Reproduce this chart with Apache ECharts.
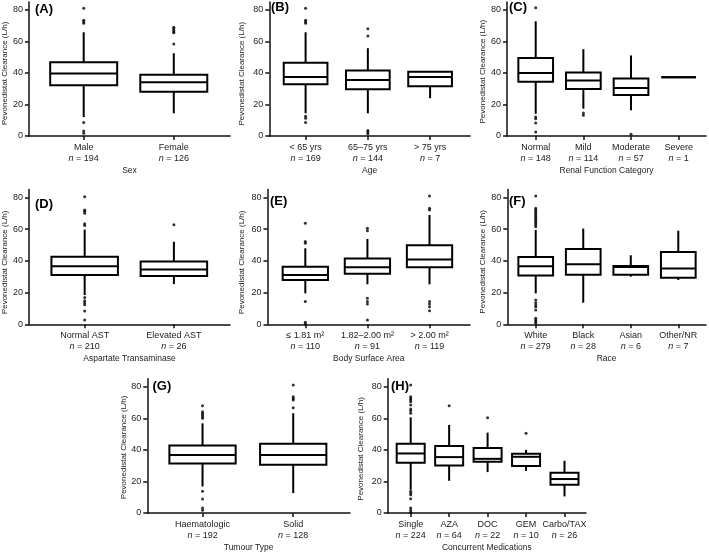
<!DOCTYPE html>
<html><head><meta charset="utf-8">
<script src="https://cdn.jsdelivr.net/npm/echarts@6/dist/echarts.min.js"></script>
<style>html,body{margin:0;padding:0;background:#fff}#c{width:709px;height:553px}</style>
</head><body><div id="c"></div><script>
// ---------- DATA ----------
const yTicks = [0, 20, 40, 60, 80];
const yName = 'Pevonedistat Clearance (L/h)';

// box stats: [min whisker, Q1, median, Q3, max whisker]
const catsA = ['Male', 'Female'];
const nA = [194, 126];
const boxA = [[12, 32.2, 39.6, 46.8, 65.8], [14.4, 28.1, 34.1, 38.9, 52.5]];
const outA = [[81, 73.5, 72.5, 71.5, 8.5, 3.2, 1.7], [69, 68, 67, 66, 65.5, 58.4]];

const catsB = ['< 65 yrs', '65\u201375 yrs', '> 75 yrs'];
const nB = [169, 144, 7];
const boxB = [[14.4, 32.8, 37.5, 46.5, 65.8], [14.4, 29.6, 35.6, 41.5, 55.7], [24, 31.5, 37.5, 40.8, 40.8]];
const outB = [[81, 73.5, 72.5, 71.5, 12.5, 11.2, 8.5], [68.1, 63.5, 3.5, 2.5, 1.5], []];

const catsC = ['Normal', 'Mild', 'Moderate', 'Severe'];
const nC = [148, 114, 57, 1];
const boxC = [[14.1, 34.4, 39.9, 49.4, 72.8], [17.3, 29.8, 35.2, 40.3, 55.1], [16.3, 26.0, 30.4, 36.5, 51.1], [37.2, 37.2, 37.2, 37.2, 37.2]];
const outC = [[81.3, 12, 11, 8.2, 2.5], [14.6, 13.1], [1.1], []];

const catsD = ['Normal AST', 'Elevated AST'];
const nD = [210, 26];
const boxD = [[18.4, 31.1, 36.6, 42.6, 59.7], [25.3, 30.5, 34.5, 39.5, 52]];
const outD = [[80.4, 72, 71.2, 70, 63.3, 62.2, 16.9, 14.8, 13.6, 12.3, 8.4, 2.7], [62.7]];

const catsE = ['\u2264 1.81 m\u00b2', '1.82\u20132.00 m\u00b2', '> 2.00 m\u00b2'];
const nE = [110, 91, 119];
const boxE = [[19.5, 27.9, 31.1, 36.3, 47.9], [25.2, 31.9, 35.9, 41.4, 53.8], [25.2, 35.9, 40.9, 49.8, 68.9]];
const outE = [[63.6, 52.1, 51.0, 14.3, 1.3, 0.2], [60.5, 59.0, 16.4, 14.3, 12.8, 2.7], [80.8, 73.1, 72.0, 14.3, 12.8, 11.1, 8.6]];

const catsF = ['White', 'Black', 'Asian', 'Other/NR'];
const nF = [279, 28, 6, 7];
const boxF = [[19.5, 30.7, 36.5, 42.4, 59.4], [13.6, 31.3, 37.8, 47.5, 60.3], [30.0, 31.3, 36.1, 36.7, 43.5], [27.9, 29.4, 35.1, 45.6, 59.0]];
const outF = [[80.8, 73.1, 72.0, 71.0, 69.9, 68.9, 67.8, 66.8, 65.7, 64.7, 63.6, 62.6, 61.5, 15.3, 13.6, 12.2, 11.1, 9.0, 3.8, 2.7, 1.7, 0.6], [], [], []];

const catsG = ['Haematologic', 'Solid'];
const nG = [192, 128];
const boxG = [[16.8, 31.4, 36.8, 42.7, 56.8], [12.6, 30.5, 36.8, 43.8, 63.2]];
const outG = [[68, 64.2, 63, 62, 61, 60, 13.7, 8.8, 3.2, 1.7], [81, 73.7, 72.6, 71.6, 66.7]];

const catsH = ['Single', 'AZA', 'DOC', 'GEM', 'Carbo/TAX'];
const nH = [224, 64, 22, 10, 26];
const boxH = [[14.7, 31.8, 37.7, 43.8, 60.6], [20.4, 30.1, 35.4, 42.5, 55.8], [25.9, 32.4, 34.3, 41.1, 50.9], [26.7, 29.7, 35.6, 37.5, 40.0], [10.5, 17.9, 21.5, 25.5, 33.1]];
const outH = [[81, 73.7, 72.6, 71.6, 70.5, 68.4, 65.9, 64.8, 63.2, 13.7, 12.6, 11.6, 9.1, 3.2, 1.7, 0.4], [68.0], [60.4], [50.5], []];

const panelLetters = ['(A)', '(B)', '(C)', '(D)', '(E)', '(F)', '(G)', '(H)'];
const xNames = ['Sex', 'Age', 'Renal Function Category', 'Aspartate Transaminase', 'Body Surface Area', 'Race', 'Tumour Type', 'Concurrent Medications'];

// ---------- LAYOUT ----------
const panels = [
  {cats: catsA, n: nA, box: boxA, out: outA, left: 28, top: 2, width: 202, height: 134, xmin: 0.392, xmax: 2.624, bw: 69, nameGap: 19, nameShift: 9, tl: 35, tt: 3},
  {cats: catsB, n: nB, box: boxB, out: outB, left: 269.3, top: 2, width: 200.7, height: 134, xmin: 0.417, xmax: 3.641, bw: 45.7, nameGap: 24, nameShift: 9.5, tl: 271, tt: 1},
  {cats: catsC, n: nC, box: boxC, out: outC, left: 507, top: 2, width: 199, height: 134, xmin: 0.398, xmax: 4.573, bw: 36.7, nameGap: 20, nameShift: 5.5, tl: 509, tt: 0.5},
  {cats: catsD, n: nD, box: boxD, out: outD, left: 27, top: 189.4, width: 203, height: 134.9, xmin: 0.376, xmax: 2.629, bw: 68.5, nameGap: 20, nameShift: 11, tl: 35, tt: 197.5},
  {cats: catsE, n: nE, box: boxE, out: outE, left: 267.5, top: 189.4, width: 202.5, height: 134.9, xmin: 0.391, xmax: 3.652, bw: 47.3, nameGap: 22, nameShift: 11, tl: 270, tt: 194.5},
  {cats: catsF, n: nF, box: boxF, out: outF, left: 507.3, top: 189.4, width: 198.7, height: 134.9, xmin: 0.402, xmax: 4.583, bw: 36.7, nameGap: 20.5, nameShift: 10, tl: 509, tt: 194.5},
  {cats: catsG, n: nG, box: boxG, out: outG, left: 147.3, top: 378.8, width: 202.7, height: 134.5, xmin: 0.391, xmax: 2.626, bw: 68.3, nameGap: 20, nameShift: 3, tl: 152.5, tt: 380},
  {cats: catsH, n: nH, box: boxH, out: outH, left: 387.7, top: 378.8, width: 198.3, height: 134.5, xmin: 0.402, xmax: 5.559, bw: 30, nameGap: 23, nameShift: 6, tl: 391, tt: 380}
];

const FONT = '"Liberation Sans", Arial, Helvetica, sans-serif';
const INK = '#111';
const TXT = '#222';

const option = {
  animation: false,
  backgroundColor: '#fff',
  title: [], grid: [], xAxis: [], yAxis: [], series: []
};

panels.forEach((p, k) => {
  const idx = p.cats.map((c, i) => i + 1);
  option.title.push({
    text: panelLetters[k], left: p.tl, top: p.tt, padding: 0,
    textStyle: {fontFamily: FONT, fontWeight: 'bold', fontSize: 13, color: '#000'}
  });
  option.grid.push({left: p.left, top: p.top, width: p.width, height: p.height, containLabel: false});
  option.xAxis.push({
    type: 'value', gridIndex: k, min: p.xmin, max: p.xmax,
    name: xNames[k], nameLocation: 'middle', nameGap: 30,
    nameTextStyle: {fontFamily: FONT, fontSize: 8.5, color: TXT},
    splitLine: {show: false},
    axisLine: {show: true, onZero: false, lineStyle: {color: INK, width: 1.5}},
    axisTick: {show: true, length: 4, customValues: idx, lineStyle: {color: INK, width: 1.5}},
    axisLabel: {
      customValues: idx, margin: 6, fontFamily: FONT, fontSize: 9, lineHeight: 11, color: TXT,
      formatter: (v) => { const i = Math.round(v) - 1; return p.cats[i] + '\n{i|n} = ' + p.n[i]; },
      rich: {i: {fontStyle: 'italic', fontFamily: FONT, fontSize: 9, lineHeight: 11, color: TXT}}
    }
  });
  option.yAxis.push({
    type: 'value', gridIndex: k, min: 0, max: 85,
    name: yName, nameLocation: 'middle', nameGap: p.nameGap, nameRotate: 90,
    nameTextStyle: {fontFamily: FONT, fontSize: 8, color: TXT, padding: [0, p.nameShift, 0, 0]},
    splitLine: {show: false},
    axisLine: {show: true, onZero: false, lineStyle: {color: INK, width: 1.5}},
    axisTick: {show: true, length: 4, customValues: yTicks, lineStyle: {color: INK, width: 1.5}},
    axisLabel: {customValues: yTicks, margin: 6, fontFamily: FONT, fontSize: 9, color: TXT}
  });
  const half = (p.bw - 2) / 2;
  option.series.push({
    type: 'custom', xAxisIndex: k, yAxisIndex: k,
    data: p.box.map((b, i) => [i + 1].concat(b)),
    encode: {x: 0, y: [1, 2, 3, 4, 5]},
    renderItem: (params, api) => {
      const x = api.value(0);
      const lo = api.coord([x, api.value(1)]);
      const q1 = api.coord([x, api.value(2)]);
      const md = api.coord([x, api.value(3)]);
      const q3 = api.coord([x, api.value(4)]);
      const hi = api.coord([x, api.value(5)]);
      const st = {stroke: '#000', lineWidth: 2, fill: null};
      return {type: 'group', children: [
        {type: 'line', shape: {x1: hi[0], y1: hi[1], x2: q3[0], y2: q3[1]}, style: st},
        {type: 'line', shape: {x1: q1[0], y1: q1[1], x2: lo[0], y2: lo[1]}, style: st},
        {type: 'rect', shape: {x: q3[0] - half, y: q3[1], width: half * 2, height: q1[1] - q3[1]},
          style: {stroke: '#000', lineWidth: 2, fill: '#fff'}},
        {type: 'line', shape: {x1: md[0] - half, y1: md[1], x2: md[0] + half, y2: md[1]}, style: st}
      ]};
    }
  });
  const pts = [];
  p.out.forEach((arr, i) => arr.forEach(v => pts.push([i + 1, v])));
  option.series.push({
    type: 'scatter', xAxisIndex: k, yAxisIndex: k, data: pts,
    symbol: 'circle', symbolSize: 3, itemStyle: {color: '#000'}, z: 5
  });
});

const chart = echarts.init(document.getElementById('c'), null, {renderer: 'canvas'});
chart.setOption(option);
</script></body></html>
